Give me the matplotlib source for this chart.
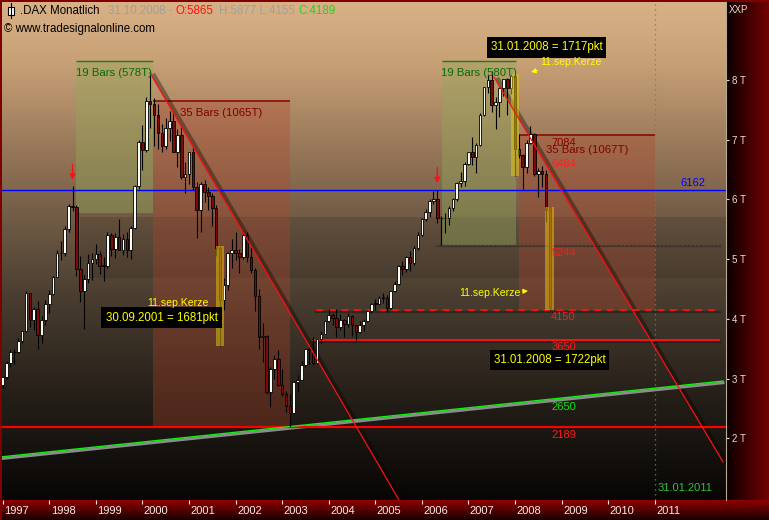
import numpy as np
import matplotlib
matplotlib.use("Agg")
import matplotlib.pyplot as plt
import matplotlib.transforms as mtransforms
from matplotlib.patches import Rectangle

plt.rcParams['font.family'] = ['Liberation Sans', 'DejaVu Sans']

# ---------------- data (DAX monthly, Jan 1997 .. Oct 2008) ----------------
first_year = 1997
opens = [
    2889, 3029, 3262, 3439, 3438, 3627, 3791, 4438, 3977, 4168, 3727, 3981,
    4250, 4418, 4709, 5096, 5107, 5503, 5897, 5874, 4833, 4474, 4671, 4943,
    5002, 5081, 4893, 4884, 5396, 5169, 5378, 5161, 5340, 5149, 5525, 6220,
    6958, 6835, 7644, 7599, 7414, 7109, 6898, 7190, 7318, 6798, 7078, 6372,
    6434, 6795, 6208, 5830, 6265, 6123, 6058, 5861, 5188, 4308, 4560, 5102,
    5160, 5108, 5039, 5397, 5041, 4818, 4383, 3700, 3712, 2769, 3153, 3320,
    2893, 2748, 2547, 2424, 2942, 2983, 3221, 3487, 3485, 3257, 3655, 3746,
    3965, 4059, 4018, 3856, 3985, 3921, 4052, 3895, 3785, 3893, 3960, 4126,
    4256, 4254, 4350, 4349, 4185, 4460, 4586, 4886, 4830, 5044, 4929, 5193,
    5408, 5674, 5796, 5970, 6009, 5693, 5683, 5682, 5859, 6005, 6269, 6309,
    6597, 6789, 6716, 6917, 7409, 7884, 8007, 7584, 7638, 7862, 8020, 7871,
    8067, 6852, 6748, 6535, 6949, 7097, 6418, 6480, 6422, 5865]
highs = [
    3030, 3300, 3480, 3490, 3680, 3800, 4460, 4440, 4200, 4300, 4040, 4320,
    4480, 4720, 5160, 5300, 5560, 5930, 6217, 5900, 5050, 4740, 5090, 5100,
    5260, 5130, 5040, 5460, 5430, 5440, 5670, 5420, 5460, 5560, 6240, 6990,
    7250, 7720, 8136, 7700, 7600, 7260, 7360, 7480, 7460, 7180, 7220, 6630,
    6800, 6870, 6300, 6300, 6330, 6200, 6100, 5900, 5220, 4680, 5120, 5340,
    5460, 5170, 5470, 5450, 5200, 4850, 4500, 3930, 3730, 3200, 3400, 3480,
    3160, 2800, 2740, 2960, 3060, 3300, 3500, 3530, 3690, 3670, 3790, 3970,
    4160, 4100, 4160, 4080, 4000, 4100, 4060, 3900, 3960, 3990, 4150, 4270,
    4330, 4380, 4440, 4400, 4470, 4640, 4900, 4970, 5060, 5140, 5220, 5460,
    5690, 5840, 6000, 6140, 6162, 5730, 5780, 5890, 6030, 6290, 6460, 6620,
    6800, 7040, 6940, 7440, 7890, 8090, 8152, 7720, 7880, 8020, 8040, 8100,
    8100, 7100, 6760, 6990, 7231, 7120, 6520, 6560, 6500, 5877]
lows = [
    2848, 3000, 3190, 3250, 3420, 3590, 3780, 3860, 3810, 3487, 3600, 3900,
    4100, 4400, 4700, 4980, 5050, 5450, 5800, 4720, 4290, 3833, 4600, 4650,
    4920, 4750, 4640, 4850, 5050, 5020, 5150, 5070, 5040, 5000, 5500, 6180,
    6500, 6800, 7200, 6900, 6850, 6800, 6850, 6980, 6790, 6540, 6350, 6110,
    6250, 6150, 5350, 5450, 5950, 5820, 5550, 5050, 3539, 4150, 4480, 4850,
    4980, 4770, 5000, 4960, 4760, 4130, 3500, 3270, 2740, 2520, 3000, 2880,
    2700, 2440, 2189, 2420, 2800, 2980, 3200, 3250, 3220, 3250, 3600, 3740,
    3950, 3890, 3690, 3820, 3700, 3860, 3720, 3620, 3770, 3800, 3950, 4090,
    4150, 4240, 4270, 4120, 4170, 4450, 4560, 4730, 4790, 4800, 4900, 5150,
    5380, 5640, 5700, 5920, 5600, 5240, 5440, 5570, 5800, 5980, 6200, 6230,
    6580, 6580, 6440, 6900, 7400, 7780, 7470, 7180, 7380, 7740, 7420, 7770,
    6385, 6700, 6167, 6440, 6920, 6390, 6035, 6200, 5620, 4155]
closes = [
    3029, 3262, 3439, 3438, 3627, 3791, 4438, 3977, 4168, 3727, 3981, 4250,
    4418, 4709, 5096, 5107, 5503, 5897, 5874, 4833, 4474, 4671, 4943, 5002,
    5081, 4893, 4884, 5396, 5169, 5378, 5161, 5340, 5149, 5525, 6220, 6958,
    6835, 7644, 7599, 7414, 7109, 6898, 7190, 7318, 6798, 7078, 6372, 6434,
    6795, 6208, 5830, 6265, 6123, 6058, 5861, 5188, 4308, 4560, 5102, 5160,
    5108, 5039, 5397, 5041, 4818, 4383, 3700, 3712, 2769, 3153, 3320, 2893,
    2748, 2547, 2424, 2942, 2983, 3221, 3487, 3485, 3257, 3655, 3746, 3965,
    4059, 4018, 3856, 3985, 3921, 4052, 3895, 3785, 3893, 3960, 4126, 4256,
    4254, 4350, 4349, 4185, 4460, 4586, 4886, 4830, 5044, 4929, 5193, 5408,
    5674, 5796, 5970, 6009, 5693, 5683, 5682, 5859, 6005, 6269, 6309, 6597,
    6789, 6716, 6917, 7409, 7884, 8007, 7584, 7638, 7862, 8020, 7871, 8067,
    6852, 6748, 6535, 6949, 7097, 6418, 6480, 6422, 5831, 4189]

year_ticks = list(range(1997, 2012))
price_ticks = [2000, 3000, 4000, 5000, 6000, 7000, 8000]
price_tick_labels = ['2 T', '3 T', '4 T', '5 T', '6 T', '7 T', '8 T']

# bar-count zones: (t_start, t_end, p_bottom, p_top, label)
green_zones = [(1998.575, 2000.22, 5770, 8310, '19 Bars (578T)'),
               (2006.43, 2008.03, 5244, 8310, '19 Bars (580T)')]
red_zones = [(2000.22, 2003.17, 2189, 7640, '35 Bars (1065T)'),
             (2008.085, 2011.0, 4150, 7084, '35 Bars (1067T)')]
band_zone = (1998.66, 4680, 5705)

# trend lines (t, price)
down1_t, down1_p = [2000.163, 2005.50], [8120, 980]
down2_t, down2_p = [2007.55, 2012.47], [8050, 1600]
up_t, up_p = [1996.985, 2012.47], [1690, 2959]

# horizontal levels
level_blue = 6162
level_2189 = 2189
level_3650, level_3650_start = 3650, 2003.67
level_4150, level_4150_start = 4150, 2003.735
level_5244, level_5244_start = 5244, 2006.33
level_end = 2012.41

level_labels = [(7084, '7084', '#8a0000', -8), (6484, '6484', '#ff2020', 7),
                (5244, '5244', '#ff1a1a', -8), (4150, '4150', '#ff1a1a', -7),
                (3650, '3650', '#ff1a1a', -7), (2650, '2650', '#10e010', -8),
                (2189, '2189', '#ff1a1a', -8)]

highlight_idx = [56, 132, 141]   # Sep 2001, Jan 2008, Oct 2008
arrow_idx = [18, 112]            # Jul 1998, May 2006 highs
marker_date = 2011.0

# ---------------- figure ----------------
W, H, DPI = 769, 520, 100
fig = plt.figure(figsize=(W / DPI, H / DPI), dpi=DPI)

# frame background (gradients)
img = np.zeros((H, W, 3))
img[:, :, 0] = 0.45
xs = np.arange(W)
ys = np.arange(H)
f = np.clip((xs - 726) / 43.0, 0, 1)
right_col = 0.04 + 0.42 * f
for yy in range(H):
    img[yy, 726:, 0] = right_col[726:]
fb = np.clip((ys - 500) / 20.0, 0, 1)
for yy in range(500, H):
    img[yy, :, 0] = 0.55 - 0.47 * fb[yy]
img[:2, :, 0] = 0.5
img[:, :2, 0] = 0.5
bgax = fig.add_axes([0, 0, 1, 1], zorder=-10)
bgax.imshow(img, extent=[0, W, H, 0], aspect='auto', interpolation='bilinear')
bgax.set_xlim(0, W); bgax.set_ylim(H, 0); bgax.axis('off')


def px_t(px):
    return 1997 + (px - 2.7) / 46.57


def py_p(py):
    return 2000 + (438.3 - py) / 0.05972


ax = fig.add_axes([2 / W, 20 / H, 724 / W, 498 / H])
x0, x1 = px_t(2), px_t(726)
y0, y1 = py_p(500), py_p(2)

# plot background gradient
stops = np.array([0.0, 0.12, 0.30, 0.45, 0.60, 0.80, 1.0])
cols = np.array([(216, 178, 134), (200, 160, 118), (150, 118, 88), (108, 88, 68),
                 (72, 60, 47), (36, 30, 24), (8, 6, 5)]) / 255.0
fr = np.linspace(0, 1, 400)
grad = np.stack([np.interp(fr, stops, cols[:, k]) for k in range(3)], axis=1)[:, None, :]
ax.imshow(grad, extent=[x0, x1, y0, y1], aspect='auto', origin='upper', zorder=0)
ax.set_xlim(x0, x1)
ax.set_ylim(y0, y1)


def shifted(dx, dy):
    return ax.transData + mtransforms.ScaledTranslation(dx / DPI, dy / DPI, fig.dpi_scale_trans)


# band
ax.add_patch(Rectangle((band_zone[0], band_zone[1]), x1 - band_zone[0], band_zone[2] - band_zone[1],
                       facecolor='black', alpha=0.12, lw=0, zorder=1))
# zones
for (ts, te, pb, pt, lab) in green_zones:
    ax.add_patch(Rectangle((ts, pb), te - ts, pt - pb, facecolor='#93a85a', alpha=0.42, lw=0, zorder=1))
    ax.hlines(pt, ts, te, color='#1f7a1f', lw=1.0, zorder=2)
    ax.annotate(lab, ((ts + te) / 2, pt), xytext=(0, -12), textcoords='offset pixels',
                ha='center', va='center', color='#0a6a0a', fontsize=8.2, zorder=6)
for (ts, te, pb, pt, lab) in red_zones:
    ax.add_patch(Rectangle((ts, pb), te - ts, pt - pb, facecolor='#b4452c', alpha=0.33, lw=0, zorder=1))
    ax.hlines(pt, ts, te, color='#8a0000', lw=1.1, zorder=2)
ax.annotate(red_zones[0][4], (px_t(180), red_zones[0][3]), xytext=(0, -12), textcoords='offset pixels',
            ha='left', va='center', color='#800000', fontsize=8.2, zorder=6)
ax.annotate(red_zones[1][4], (px_t(546), red_zones[1][3]), xytext=(0, -15), textcoords='offset pixels',
            ha='left', va='center', color='#800000', fontsize=8.2, zorder=6)

# horizontal levels
ax.axhline(level_blue, color='#0000ff', lw=1.0, zorder=3)
ax.plot([x0, x1], [level_2189, level_2189], color='#181818', lw=1.6, alpha=0.6, zorder=2,
        transform=shifted(0, -2))
ax.axhline(level_2189, color='#ff0000', lw=1.6, zorder=3)
ax.plot([level_3650_start, level_end], [level_3650] * 2, color='#181818', lw=1.6, alpha=0.5, zorder=2,
        transform=shifted(0, -2))
ax.hlines(level_3650, level_3650_start, level_end, color='#ff1010', lw=1.4, zorder=3)
ax.plot([level_4150_start, level_end], [level_4150] * 2, color='#181818', lw=1.6, alpha=0.5, zorder=2,
        transform=shifted(0, -2))
ax.hlines(level_4150, level_4150_start, level_end, color='#ff1010', lw=1.3, linestyles=(0, (4, 3)), zorder=3)
ax.plot([level_5244_start, level_end], [level_5244] * 2, color='#303030', lw=1.6, alpha=0.75, zorder=2,
        transform=shifted(0, -1.5))
ax.hlines(level_5244, level_5244_start, level_end, color='#e01010', lw=0.8, linestyles=(0, (1.5, 2)), zorder=3)

# vertical dotted marker
ax.axvline(marker_date, color='#3ca03c', lw=0.9, ls=(0, (1, 3)), zorder=2)

# trend lines with shadows
for tt, pp in [(down1_t, down1_p), (down2_t, down2_p)]:
    ax.plot(tt, pp, color='black', lw=3.2, alpha=0.35, zorder=2, transform=shifted(3, -1),
            solid_capstyle='butt')
    ax.plot(tt, pp, color='#ff1010', lw=0.9, zorder=5)
ax.plot(up_t, up_p, color='#8c8c8c', lw=2.0, zorder=2, transform=shifted(0, -1.8))
ax.plot(up_t, up_p, color='#10f010', lw=1.0, zorder=3)

# candles
o = np.array(opens, float); h = np.array(highs, float)
l = np.array(lows, float); c = np.array(closes, float)
t = first_year + np.arange(len(c)) / 12.0
up = c >= o
ax.vlines(t, l, h, color='black', lw=0.8, zorder=4)
bw = 0.056
bot = np.minimum(o, c)
ht = np.maximum(np.abs(c - o), 12)
ax.bar(t[up], ht[up], bottom=bot[up], width=bw, color='#fbfbf5', edgecolor='black', lw=0.6, zorder=4.5)
ax.bar(t[~up], ht[~up], bottom=bot[~up], width=bw, color='#7c0a06', edgecolor='black', lw=0.6, zorder=4.5)

# highlight boxes around the 11th candle
for i in highlight_idx:
    ax.add_patch(Rectangle((t[i] - 0.095, l[i]), 0.19, h[i] - l[i], facecolor='#e8cc10',
                           alpha=0.5, lw=0, zorder=4.8))

# red arrows above highs
for i in arrow_idx:
    ax.annotate('', xy=(t[i], h[i] + 110), xytext=(t[i], h[i] + 370),
                arrowprops=dict(arrowstyle='-|>', color='#ff1010', lw=1.0,
                                mutation_scale=8, shrinkA=0, shrinkB=0), zorder=6)

# level labels
lab_x = px_t(563.5)
for val, txt, col, dy in level_labels:
    ax.annotate(txt, (lab_x, val), xytext=(0, dy), textcoords='offset pixels', ha='center',
                va='center', color=col, fontsize=8, zorder=6)
ax.annotate('6162', (px_t(693), level_blue), xytext=(0, 7), textcoords='offset pixels', ha='center',
            va='center', color='#0000ff', fontsize=8, zorder=6)
ax.annotate('31.01.2011', (marker_date, y0), xytext=(30, 12), textcoords='offset pixels', ha='center',
            va='center', color='#30c030', fontsize=8, zorder=6)

# black info boxes
box = dict(boxstyle='square,pad=0.35', facecolor='black', edgecolor='none')
ax.text(px_t(161.5), py_p(317.5), '30.09.2001 = 1681pkt', color='#ffff00', fontsize=8.3,
        ha='center', va='center', bbox=box, zorder=7)
ax.text(px_t(546.5), py_p(47.5), '31.01.2008 = 1717pkt', color='#ffff00', fontsize=8.3,
        ha='center', va='center', bbox=box, zorder=7)
ax.text(px_t(549.5), py_p(360), '31.01.2008 = 1722pkt', color='#ffff00', fontsize=8.3,
        ha='center', va='center', bbox=box, zorder=7)

# 11.sep.Kerze notes
ax.text(px_t(177.5), py_p(303), '11.sep.Kerze', color='#ffff00', fontsize=7.6, ha='center', va='center', zorder=7)
ax.annotate('11.sep.Kerze', xy=(px_t(531), py_p(72)), xytext=(px_t(571), py_p(62)),
            color='#ffff00', fontsize=7.6, ha='center', va='center', zorder=7,
            arrowprops=dict(arrowstyle='-|>', color='#ffff00', lw=0.8, mutation_scale=7,
                            shrinkA=2, shrinkB=0))
ax.annotate('11.sep.Kerze', xy=(px_t(528), py_p(291)), xytext=(px_t(490), py_p(293)),
            color='#ffff00', fontsize=7.6, ha='center', va='center', zorder=7,
            arrowprops=dict(arrowstyle='-|>', color='#ffff00', lw=0.8, mutation_scale=7,
                            shrinkA=8, shrinkB=0))

# axes styling
for s in ['top', 'left', 'bottom']:
    ax.spines[s].set_visible(False)
ax.spines['right'].set_color('#b8a894')
ax.spines['right'].set_linewidth(0.8)
ax.yaxis.tick_right()
ax.set_yticks(price_ticks)
ax.set_yticklabels(price_tick_labels)
ax.tick_params(axis='y', colors='#f0dcc8', labelsize=7, length=2.5, width=0.8, pad=2)
ax.set_xticks(year_ticks)
ax.set_xticklabels([str(y) for y in year_ticks])
ax.tick_params(axis='x', colors='#f4ece4', labelsize=8, length=3, width=0.8, pad=1.5)
for lbl in ax.get_xticklabels():
    lbl.set_ha('left')
    lbl.set_transform(lbl.get_transform() + mtransforms.ScaledTranslation(1.5 / DPI, 0, fig.dpi_scale_trans))


# title texts (figure pixels)
def ftext(px, py, s, **kw):
    fig.text(px / W, 1 - py / H, s, va='center', ha='left', zorder=20, **kw)


ftext(20, 11, '.DAX Monatlich', color='black', fontsize=8.3)
ftext(108, 11, '31.10.2008 -', color='#a0a0a0', fontsize=8.3)
ftext(176, 11, 'O:5865', color='#ff1010', fontsize=8.3)
ftext(219, 11, 'H:5877 L:4155', color='#a0a0a0', fontsize=8.3)
ftext(298, 11, 'C:4189', color='#10e010', fontsize=8.3)
ftext(4, 29, '\u00a9 www.tradesignalonline.com', color='black', fontsize=8.3)
ftext(729, 10, 'XXP', color='#e8d8c8', fontsize=7)
# small candle icon
fig.add_artist(plt.Line2D([10.5 / W, 10.5 / W], [1 - 3 / H, 1 - 18 / H], color='black', lw=0.8))
fig.add_artist(Rectangle((7.5 / W, 1 - 15 / H), 6 / W, 8 / H, facecolor='white', edgecolor='black',
                         lw=0.8, transform=fig.transFigure))

fig.savefig('out.png', dpi=DPI)
